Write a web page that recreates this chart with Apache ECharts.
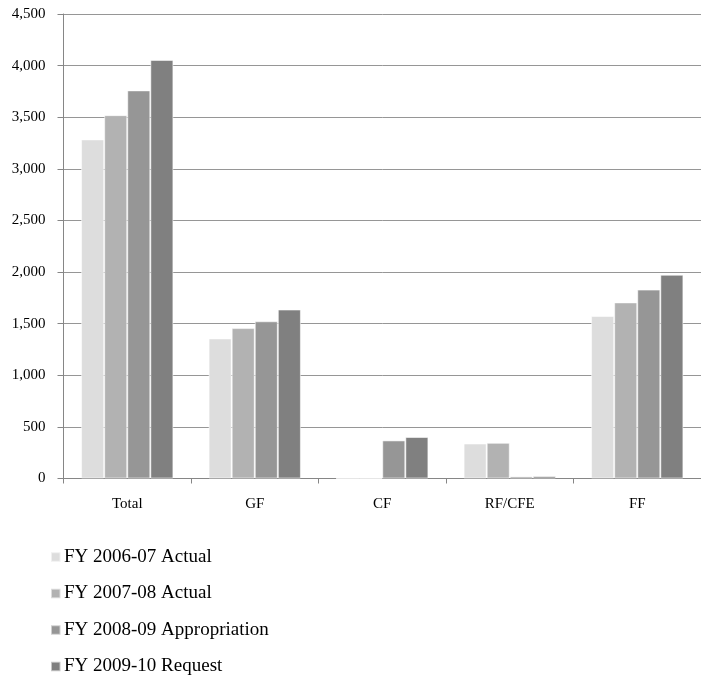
<!DOCTYPE html>
<html>
<head>
<meta charset="utf-8">
<script src="https://cdn.jsdelivr.net/npm/echarts@6/dist/echarts.min.js"></script>
<style>
  html, body { margin: 0; padding: 0; background: #fff; }
  #chart { width: 701px; height: 675px; }
</style>
</head>
<body>
<div id="chart"></div>
<script>
// Funding by fund source (in millions)
const categories = ['Total', 'GF', 'CF', 'RF/CFE', 'FF'];
const seriesNames = ['FY 2006-07 Actual', 'FY 2007-08 Actual', 'FY 2008-09 Appropriation', 'FY 2009-10 Request'];
const fy0607 = [3285, 1357, 0, 339, 1575];
const fy0708 = [3520, 1457, 0, 346, 1706];
const fy0809 = [3760, 1523, 369, 20, 1830];
const fy0910 = [4055, 1637, 402, 23, 1974];
const yTicks = { min: 0, max: 4500, interval: 500 };

const seriesData = [fy0607, fy0708, fy0809, fy0910];
const colors = ['#dddddd', '#b2b2b2', '#969696', '#808080'];
const fontFamily = '"Liberation Serif", "DejaVu Serif", serif';

const chart = echarts.init(document.getElementById('chart'), null, { renderer: 'canvas' });

// one legend row per series, stacked down the bottom-left
const legendTop = 547.5;
const legendStep = 36.5;
const legends = seriesNames.map((name, i) => ({
  orient: 'horizontal',
  left: 50,
  top: legendTop + i * legendStep,
  padding: 0,
  itemWidth: 9.5,
  itemHeight: 9.5,
  icon: 'rect',
  textStyle: { fontFamily: fontFamily, fontSize: 19, color: '#000', padding: [0, 0, 0, -1.5] },
  data: [name]
}));

chart.setOption({
  animation: false,
  color: colors,
  grid: { left: 63.5, right: -7, top: 14, bottom: 196.5, containLabel: false },
  legend: legends,
  xAxis: {
    type: 'category',
    data: categories,
    axisLine: { show: true, lineStyle: { color: '#868686', width: 1 } },
    axisTick: { show: true, length: 5, alignWithLabel: false, lineStyle: { color: '#868686' } },
    axisLabel: { fontFamily: fontFamily, fontSize: 15, color: '#000', margin: 18 },
    splitLine: { show: false }
  },
  yAxis: {
    type: 'value',
    min: yTicks.min,
    max: yTicks.max,
    interval: yTicks.interval,
    axisLine: { show: true, lineStyle: { color: '#868686', width: 1 } },
    axisTick: { show: true, length: 6, lineStyle: { color: '#868686' } },
    axisLabel: {
      fontFamily: fontFamily, fontSize: 15, color: '#000', margin: 18,
      formatter: v => v.toLocaleString('en-US')
    },
    splitLine: { show: true, lineStyle: { color: '#969696', width: 1 } }
  },
  series: seriesNames.map((name, i) => ({
    name: name,
    type: 'bar',
    data: seriesData[i],
    barGap: '0%',
    barCategoryGap: '27.6%',
    itemStyle: { color: colors[i], borderColor: 'rgba(255,255,255,0.55)', borderWidth: 1 }
  }))
});
</script>
</body>
</html>
